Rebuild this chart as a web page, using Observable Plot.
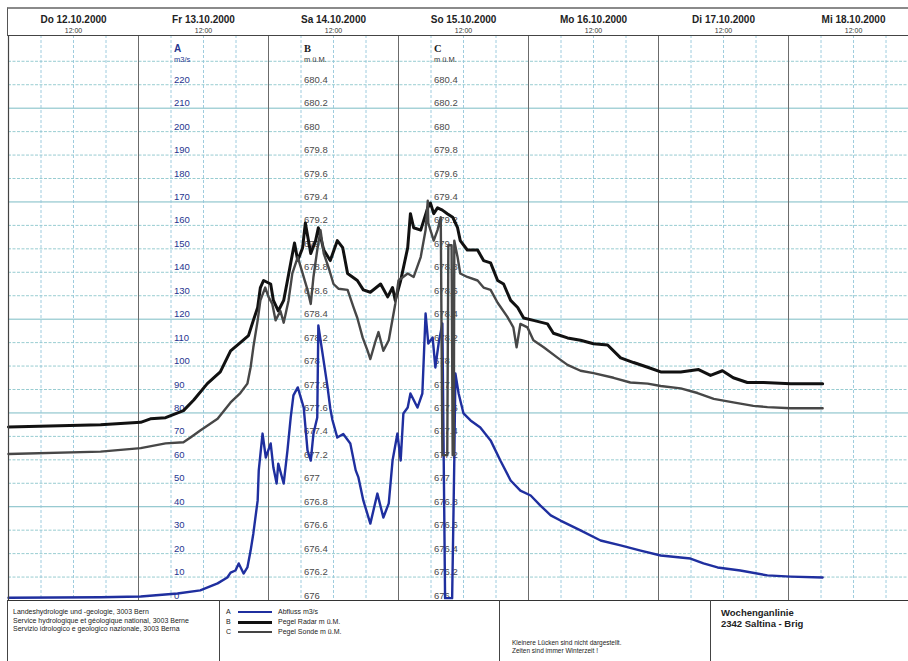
<!DOCTYPE html>
<html><head><meta charset="utf-8">
<script src="https://cdn.jsdelivr.net/npm/d3@7"></script>
<script src="https://cdn.jsdelivr.net/npm/@observablehq/plot@0.6"></script>
<style>
html,body{margin:0;padding:0;background:#fff;}
body{font-family:"Liberation Sans",Arial,sans-serif;}
#wrap{position:relative;width:908px;height:661px;overflow:hidden;}
#chart{position:absolute;left:0;top:0;}
.hdr{position:absolute;left:7px;top:7px;width:901px;height:29px;border-top:2px solid #8a8a8a;border-left:1px solid #555;box-sizing:border-box;}
.box{position:absolute;top:600px;height:61px;border-left:1px solid #444;box-sizing:border-box;color:#222;}
.small{font-size:7px;line-height:8.5px;}
.lg{position:absolute;left:0;font-size:7px;line-height:8px;white-space:nowrap;}
.lg .k{display:inline-block;width:12px;}
.lg .sw{display:inline-block;width:34px;vertical-align:middle;margin-right:6px;}
.title{font-size:9.5px;font-weight:bold;line-height:11px;}
</style></head>
<body>
<div id="wrap">
  <div id="chart"></div>
  <div class="hdr"></div>
  <div class="box" style="left:7px;width:212px;"><div class="small" style="padding:8px 0 0 5px;">Landeshydrologie und -geologie, 3003 Bern<br>Service hydrologique et géologique national, 3003 Berne<br>Servizio idrologico e geologico nazionale, 3003 Berna</div></div>
  <div class="box" style="left:219px;width:280px;">
    <div class="lg" style="top:8px;left:6px;"><span class="k">A</span><span class="sw" style="border-top:2px solid #1f2f9f"></span>Abfluss m3/s</div>
    <div class="lg" style="top:18px;left:6px;"><span class="k">B</span><span class="sw" style="border-top:3px solid #111"></span>Pegel Radar m ü.M.</div>
    <div class="lg" style="top:28px;left:6px;"><span class="k">C</span><span class="sw" style="border-top:2px solid #444"></span>Pegel Sonde m ü.M.</div>
  </div>
  <div class="box" style="left:499px;width:211px;"><div class="small" style="padding:39px 0 0 12px;line-height:8px;font-size:6.5px;">Kleinere Lücken sind nicht dargestellt.<br>Zeiten sind immer Winterzeit !</div></div>
  <div class="box" style="left:710px;width:198px;"><div class="title" style="padding:7px 0 0 10px;">Wochenganlinie<br>2342 Saltina - Brig</div></div>
</div>
<script>
// ---- data (hours since Do 12.10.2000 00:00, value) ----
const dayNames = ["Do 12.10.2000", "Fr 13.10.2000", "Sa 14.10.2000", "So 15.10.2000", "Mo 16.10.2000", "Di 17.10.2000", "Mi 18.10.2000"];
const noonHours = [12, 36, 60, 84, 108, 132, 156];
const dayLineHours = [24, 48, 72, 96, 120, 144];
const sixHourLines = [6, 12, 18, 30, 36, 42, 54, 60, 66, 78, 84, 90, 102, 108, 114, 126, 132, 138, 150, 156, 162];
const aTicks = [0, 10, 20, 30, 40, 50, 60, 70, 80, 90, 100, 110, 120, 130, 140, 150, 160, 170, 180, 190, 200, 210, 220];
const bTicks = [676, 676.2, 676.4, 676.6, 676.8, 677, 677.2, 677.4, 677.6, 677.8, 678, 678.2, 678.4, 678.6, 678.8, 679, 679.2, 679.4, 679.6, 679.8, 680, 680.2, 680.4];
const gridDashed = [10, 20, 30, 50, 60, 70, 90, 100, 110, 130, 140, 150, 160, 180, 190, 200, 220, 230];
const gridSolid = [40, 80, 120, 170, 210];

// A: Abfluss m3/s
const abfluss = [
  [0, 1.2], [17, 1.4], [24.4, 1.7], [31.2, 3.0], [35.4, 4.3], [38.6, 7.3], [40.4, 9.8], [41.0, 11.9], [41.9, 12.8],
  [42.5, 15.8], [43.4, 11.5], [44.1, 14.1], [44.7, 21.3], [45.2, 28.6], [46.0, 42.7], [46.2, 55.5], [46.9, 71.2],
  [47.5, 61.0], [48.4, 67.0], [48.9, 56.7], [49.5, 49.9], [49.8, 58.4], [50.8, 49.9], [51.5, 64.0], [52.1, 78.1],
  [52.6, 87.5], [53.4, 90.9], [54.5, 82.3], [55.2, 64.0], [55.8, 59.7], [56.3, 71.2], [57.0, 78.1], [57.2, 117.3],
  [58.0, 105.0], [58.9, 91.0], [59.4, 82.0], [59.8, 77.0], [60.7, 69.5], [61.8, 71.0], [63.1, 67.0], [64.1, 55.5],
  [64.6, 52.5], [65.5, 42.7], [66.8, 32.8], [68.1, 45.6], [69.2, 35.4], [70.2, 41.4], [70.9, 59.7], [71.8, 71.2],
  [72.4, 59.7], [72.9, 79.8], [73.7, 82.3], [74.2, 88.3], [75.5, 82.3], [76.4, 88.3], [77.0, 122.4], [77.5, 109.6],
  [78.3, 112.2], [78.8, 99.4], [79.4, 109.6], [80.1, 118.2], [80.6, 1.0], [81.9, 1.0], [82.1, 30.0], [82.3, 60.0],
  [82.5, 96.8], [83.1, 88.3], [84.0, 79.8], [85.3, 76.8], [87.1, 73.8], [89.0, 68.3], [90.8, 59.7], [92.7, 51.2],
  [94.5, 46.9], [96.4, 44.8], [98.2, 40.5], [100.1, 36.3], [101.9, 34.1], [105.6, 29.9], [109.3, 25.6], [113.0, 23.5],
  [116.7, 21.3], [120.4, 19.2], [125.9, 17.9], [128.3, 15.8], [130.9, 14.1], [135.1, 12.8], [140.1, 10.7],
  [144.4, 10.2], [150.3, 9.8]
];
// B: Pegel Radar m ü.M.
const pegelRadar = [
  [0, 677.48], [17, 677.50], [24.4, 677.52], [26.2, 677.55], [29, 677.56], [32.3, 677.62], [34.2, 677.71], [36.7, 677.85],
  [39.1, 677.95], [41, 678.13], [42.8, 678.20], [44.3, 678.26], [45.2, 678.39], [46, 678.50], [46.5, 678.67], [47.1, 678.73],
  [48.4, 678.70], [48.9, 678.56], [49.8, 678.47], [50.8, 678.56], [51.5, 678.73], [52.1, 678.88], [52.8, 679.05],
  [53.4, 678.90], [54.3, 679.01], [54.8, 679.22], [55.8, 678.96], [56.7, 679.07], [57.2, 679.18], [58.2, 678.99],
  [59.4, 678.90], [60.7, 679.07], [61.7, 679.01], [62.6, 678.79], [64.4, 678.73], [65.5, 678.65], [66.8, 678.63],
  [68.7, 678.70], [70, 678.59], [70.9, 678.67], [71.4, 678.56], [72.4, 678.73], [73.7, 679.01], [74.2, 679.30],
  [74.8, 679.18], [76.1, 679.16], [77.4, 679.35], [77.9, 679.39], [78.5, 679.30], [79.2, 679.35], [80.1, 679.33],
  [81, 679.30], [82, 679.27], [82.9, 679.18], [83.4, 679.07], [84.7, 678.99], [86.6, 678.99], [87.7, 678.90],
  [89, 678.88], [90.3, 678.73], [91.4, 678.70], [92.7, 678.56], [94, 678.50], [95.1, 678.41], [96.9, 678.39],
  [99.5, 678.36], [100.6, 678.28], [103.2, 678.24], [105.6, 678.22], [108, 678.19], [110.6, 678.18], [113, 678.07],
  [115.4, 678.03], [118, 677.99], [120.4, 677.95], [124.1, 677.95], [127.4, 677.97], [129.6, 677.92], [131.8, 677.96],
  [133.8, 677.90], [136.4, 677.86], [139.4, 677.86], [144.4, 677.85], [150.3, 677.85]
];
// C: Pegel Sonde m ü.M.
const pegelSonde = [
  [0, 677.25], [17, 677.27], [24.4, 677.30], [29, 677.34], [32.3, 677.35], [33.6, 677.39], [35.4, 677.45], [38.6, 677.55],
  [41.0, 677.69], [42.8, 677.77], [44.1, 677.85], [44.7, 677.99], [45.2, 678.16], [46.0, 678.39], [46.5, 678.56],
  [47.4, 678.67], [48.0, 678.59], [48.7, 678.53], [49.3, 678.39], [50.2, 678.47], [50.8, 678.37], [51.7, 678.56],
  [52.4, 678.79], [53.4, 678.93], [54.3, 678.79], [55.2, 678.65], [55.8, 678.53], [56.3, 678.76], [57.0, 678.99],
  [57.6, 679.16], [58.2, 678.96], [59.1, 678.84], [60.0, 678.70], [60.9, 678.66], [62.6, 678.65], [63.7, 678.50],
  [64.4, 678.41], [65.4, 678.24], [66.3, 678.13], [66.8, 678.06], [67.8, 678.22], [68.3, 678.29], [69.2, 678.13],
  [70.2, 678.22], [71.4, 678.53], [72.0, 678.73], [73.7, 678.79], [74.8, 678.76], [76.1, 678.93], [77.0, 679.16],
  [77.4, 679.41], [77.5, 679.22], [78.5, 679.07], [79.2, 679.16], [79.8, 679.27], [80.1, 677.24], [81.0, 677.24],
  [81.2, 679.03], [81.8, 679.03], [82.0, 677.24], [82.2, 677.24], [82.3, 679.07], [82.9, 678.93], [83.4, 678.79],
  [84.7, 678.76], [86.6, 678.73], [87.7, 678.67], [89.0, 678.65], [90.3, 678.54], [92.1, 678.42], [93.2, 678.33],
  [93.8, 678.16], [94.5, 678.36], [95.8, 678.33], [96.9, 678.22], [98.8, 678.16], [101.4, 678.07], [103.2, 678.01],
  [105.6, 677.96], [108.0, 677.94], [111.7, 677.90], [114.8, 677.86], [118.0, 677.85], [120.4, 677.83], [124.1, 677.81],
  [127.2, 677.77], [130.2, 677.72], [133.8, 677.69], [137.5, 677.66], [140.1, 677.65], [144.4, 677.64], [150.3, 677.64]
];

// ---- helpers ----
const start = Date.UTC(2000, 9, 12);
const HOUR = 3600e3;
const toDate = h => new Date(start + h * HOUR);
const levelToA = m => (m - 676) * 50;   // B/C axis: 676 m ↔ 0, 680.4 m ↔ 220
const dayIndex = d => Math.floor((+d - start) / (24 * HOUR));
const fmtB = d3.format("~");

const navy = "#26358f";
const font = "Liberation Sans, Arial, sans-serif";

const chart = Plot.plot({
  width: 908, height: 661,
  marginTop: 35, marginBottom: 61, marginLeft: 8, marginRight: 0,
  x: {type: "utc", domain: [toDate(0), toDate(166.15)], axis: null},
  y: {domain: [0, 241], axis: null},
  style: {fontFamily: font, background: "white"},
  marks: [
    Plot.ruleY(gridDashed, {stroke: "#8cc6cc", strokeWidth: 0.9, strokeDasharray: "3,1.5"}),
    Plot.ruleY(gridSolid, {stroke: "#7bbcc4", strokeWidth: 1}),
    Plot.ruleX(sixHourLines, {x: toDate, stroke: "#93c6da", strokeWidth: 0.9, strokeDasharray: "3,2"}),
    Plot.ruleX(dayLineHours, {x: toDate, stroke: "#6b6b6b", strokeWidth: 1}),
    // axis A
    Plot.text(aTicks, {x: () => toDate(30), y: d => d, text: d => String(d), textAnchor: "start", dx: 3, dy: -5, fontSize: 9.5, fill: navy}),
    Plot.text(["A"], {x: () => toDate(30), frameAnchor: "top", dy: 9, dx: 3, textAnchor: "start", fontSize: 10, fontWeight: "bold", fill: navy}),
    Plot.text(["m3/s"], {x: () => toDate(30), frameAnchor: "top", dy: 21, dx: 3, textAnchor: "start", fontSize: 7.5, fill: navy}),
    // axis B
    Plot.text(bTicks, {x: () => toDate(54), y: levelToA, text: fmtB, textAnchor: "start", dx: 3, dy: -5, fontSize: 9.5, fill: "#4a4a4a"}),
    Plot.text(["B"], {x: () => toDate(54), frameAnchor: "top", dy: 9, dx: 3, textAnchor: "start", fontSize: 10.5, fontWeight: "bold", fill: "#222", fontFamily: "Liberation Serif, serif"}),
    Plot.text(["m ü.M."], {x: () => toDate(54), frameAnchor: "top", dy: 21, dx: 3, textAnchor: "start", fontSize: 7.5, fill: "#333"}),
    // axis C
    Plot.text(bTicks, {x: () => toDate(78), y: levelToA, text: fmtB, textAnchor: "start", dx: 3, dy: -5, fontSize: 9.5, fill: "#4a4a4a"}),
    Plot.text(["C"], {x: () => toDate(78), frameAnchor: "top", dy: 9, dx: 3, textAnchor: "start", fontSize: 10.5, fontWeight: "bold", fill: "#222", fontFamily: "Liberation Serif, serif"}),
    Plot.text(["m ü.M."], {x: () => toDate(78), frameAnchor: "top", dy: 21, dx: 3, textAnchor: "start", fontSize: 7.5, fill: "#333"}),
    // series
    Plot.line(abfluss, {x: d => toDate(d[0]), y: d => d[1], stroke: "#1f2f9f", strokeWidth: 2.4}),
    Plot.line(pegelRadar, {x: d => toDate(d[0]), y: d => levelToA(d[1]), stroke: "#111", strokeWidth: 3}),
    Plot.line(pegelSonde, {x: d => toDate(d[0]), y: d => levelToA(d[1]), stroke: "#474747", strokeWidth: 2.4}),
    // frame
    Plot.ruleY([0], {stroke: "#333", strokeWidth: 1.2}),
    Plot.ruleY([241], {stroke: "#444", strokeWidth: 1.2}),
    Plot.ruleX([toDate(0)], {stroke: "#444", strokeWidth: 1.2}),
    // header labels
    Plot.axisX(noonHours.map(toDate), {anchor: "top", tickSize: 0, tickPadding: 13, tickFormat: d => dayNames[dayIndex(d)], fontSize: 10, fontWeight: "bold", fill: "#222", label: null}),
    Plot.axisX(noonHours.map(toDate), {anchor: "top", tickSize: 0, tickPadding: 3, tickFormat: () => "12:00", fontSize: 7, fill: "#333", label: null})
  ]
});
document.getElementById("chart").appendChild(chart);
</script>
</body></html>
